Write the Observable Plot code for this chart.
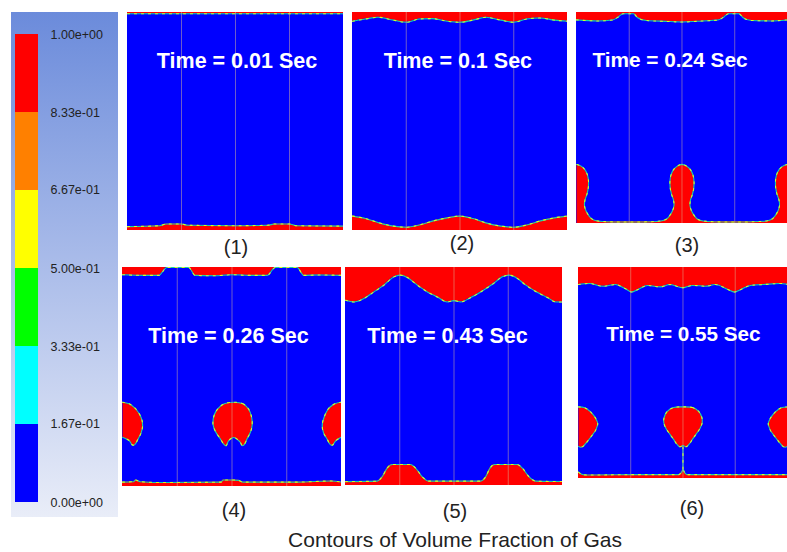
<!DOCTYPE html>
<html><head><meta charset="utf-8">
<script src="https://cdn.jsdelivr.net/npm/d3@7"></script>
<script src="https://cdn.jsdelivr.net/npm/@observablehq/plot@0.6"></script>
<style>
body{margin:0;background:#fff;font-family:"Liberation Sans",Arial,sans-serif;}
#root{position:relative;width:787px;height:552px;overflow:hidden;background:#fff;}
.abs{position:absolute;}
.lbl{position:absolute;font-size:20px;color:#222;transform:translate(-50%,-50%);white-space:nowrap;line-height:1;}
#legend{left:11px;top:12px;width:107px;height:505px;background:linear-gradient(#6b8bdb,#e9edf8);}
#caption{font-size:21px;}
</style></head><body><div id="root"></div>
<script>
// ---------- data ----------
const legendTicks = [0, 0.1667, 0.3333, 0.5, 0.6667, 0.8333, 1];
const legendLabels = ["0.00e+00","1.67e-01","3.33e-01","5.00e-01","6.67e-01","8.33e-01","1.00e+00"];
const legendColors = ["#0000ff","#00ffff","#00ff00","#ffff00","#ff8000","#ff0000"];
const panelTitles = ["Time = 0.01 Sec","Time = 0.1 Sec","Time = 0.24 Sec","Time = 0.26 Sec","Time = 0.43 Sec","Time = 0.55 Sec"];
const panelLabels = ["(1)","(2)","(3)","(4)","(5)","(6)"];
const captionText = "Contours of Volume Fraction of Gas";
const gridX = [0.25, 0.5, 0.75];

// interface profiles: [x, depth from top] for gas at top, [x, height] for gas at bottom
const p1Top = [[0,0.006],[1,0.006]];
const p1Bottom = [[0,0.018],[0.15,0.022],[0.18,0.03],[0.25,0.03],[0.28,0.024],[0.5,0.022],[0.65,0.024],[0.68,0.03],[0.75,0.03],[0.78,0.022],[1,0.02]];
const p2Top = [[0,0.04],[0.06,0.03],[0.12,0.022],[0.19,0.035],[0.25,0.045],[0.31,0.03],[0.37,0.028],[0.44,0.04],[0.5,0.045],[0.56,0.035],[0.62,0.022],[0.69,0.035],[0.75,0.045],[0.81,0.03],[0.87,0.025],[0.94,0.035],[1,0.04]];
const p2Bottom = [[0,0.066],[0.06,0.055],[0.124,0.035],[0.19,0.02],[0.25,0.015],[0.31,0.025],[0.372,0.043],[0.44,0.058],[0.5,0.066],[0.56,0.055],[0.62,0.035],[0.69,0.02],[0.75,0.015],[0.81,0.025],[0.87,0.043],[0.94,0.058],[1,0.066]];
const p3Top = [[0,0.035],[0.1,0.04],[0.17,0.036],[0.2,0.02],[0.22,0.006],[0.27,0.006],[0.29,0.025],[0.33,0.038],[0.42,0.042],[0.5,0.045],[0.6,0.04],[0.67,0.036],[0.7,0.02],[0.72,0.006],[0.77,0.006],[0.79,0.025],[0.83,0.038],[0.92,0.04],[1,0.035]];
const p3Columns = [[1,0.28],[0.978,0.272],[0.96,0.255],[0.948,0.23],[0.943,0.2],[0.944,0.17],[0.95,0.14],[0.96,0.11],[0.962,0.085],[0.955,0.06],[0.94,0.035],[0.925,0.02],[0.9,0.012],[0.6,0.012],[0.575,0.02],[0.56,0.035],[0.545,0.06],[0.538,0.085],[0.54,0.11],[0.55,0.14],[0.556,0.17],[0.557,0.2],[0.552,0.23],[0.54,0.255],[0.522,0.272],[0.5,0.28],[0.478,0.272],[0.46,0.255],[0.448,0.23],[0.443,0.2],[0.444,0.17],[0.45,0.14],[0.46,0.11],[0.462,0.085],[0.455,0.06],[0.44,0.035],[0.425,0.02],[0.4,0.012],[0.1,0.012],[0.075,0.02],[0.06,0.035],[0.045,0.06],[0.038,0.085],[0.04,0.11],[0.05,0.14],[0.056,0.17],[0.057,0.2],[0.052,0.23],[0.04,0.255],[0.022,0.272],[0,0.28]];
const p4Top = [[0,0.033],[0.1,0.036],[0.165,0.036],[0.203,0],[0.302,0],[0.332,0.036],[0.42,0.038],[0.5,0.033],[0.58,0.036],[0.66,0.036],[0.698,0],[0.797,0],[0.828,0.036],[0.9,0.034],[1,0.036]];
const p4Bottom = [[0,0.02],[0.05,0.022],[0.06,0.03],[0.08,0.022],[0.2,0.018],[0.45,0.02],[0.46,0.03],[0.5,0.03],[0.53,0.028],[0.55,0.02],[0.8,0.02],[0.95,0.025],[1,0.02]];
const p4BubbleMid = [[0.508,0.385],[0.55,0.378],[0.575,0.355],[0.59,0.315],[0.592,0.28],[0.585,0.25],[0.57,0.22],[0.555,0.19],[0.548,0.186],[0.535,0.205],[0.508,0.224],[0.485,0.21],[0.473,0.186],[0.465,0.19],[0.445,0.22],[0.425,0.25],[0.413,0.285],[0.42,0.33],[0.44,0.36],[0.465,0.378]];
const p4BubbleLeft = [[0,0.385],[0.03,0.378],[0.06,0.355],[0.085,0.315],[0.092,0.28],[0.085,0.245],[0.07,0.215],[0.055,0.19],[0.045,0.19],[0.03,0.21],[0,0.225]];
const p4BubbleRight = [[1,0.385],[0.97,0.378],[0.94,0.355],[0.92,0.315],[0.912,0.28],[0.918,0.245],[0.935,0.215],[0.95,0.19],[0.96,0.19],[0.975,0.21],[1,0.225]];
const p5Top = [[0,0.15],[0.038,0.158],[0.085,0.142],[0.131,0.112],[0.177,0.081],[0.223,0.043],[0.251,0.035],[0.285,0.046],[0.331,0.081],[0.377,0.112],[0.423,0.135],[0.469,0.158],[0.5,0.152],[0.531,0.158],[0.577,0.138],[0.623,0.112],[0.677,0.077],[0.723,0.043],[0.754,0.035],[0.785,0.046],[0.831,0.081],[0.885,0.115],[0.931,0.138],[0.969,0.158],[1,0.158]];
const p5Bottom = [[0,0.018],[0.146,0.02],[0.169,0.04],[0.192,0.08],[0.215,0.096],[0.3,0.096],[0.323,0.08],[0.354,0.04],[0.385,0.02],[0.623,0.02],[0.646,0.04],[0.666,0.08],[0.688,0.096],[0.792,0.096],[0.815,0.08],[0.846,0.04],[0.877,0.02],[1,0.018]];
const p6Top = [[0,0.081],[0.054,0.076],[0.115,0.089],[0.177,0.081],[0.223,0.1],[0.254,0.116],[0.285,0.104],[0.331,0.085],[0.392,0.092],[0.438,0.081],[0.5,0.096],[0.546,0.085],[0.608,0.089],[0.654,0.081],[0.715,0.104],[0.746,0.116],[0.777,0.104],[0.823,0.085],[0.885,0.081],[0.963,0.076],[1,0.08]];
const p6Bottom = [[0,0.03],[0.015,0.02],[0.04,0.016],[0.3,0.018],[0.48,0.018],[0.49,0.025],[0.5,0.04],[0.51,0.025],[0.52,0.018],[0.8,0.018],[1,0.018]];
const p6BubbleMid = [[0.5,0.339],[0.545,0.336],[0.575,0.318],[0.59,0.29],[0.592,0.265],[0.582,0.238],[0.563,0.21],[0.545,0.185],[0.53,0.163],[0.515,0.15],[0.5,0.156],[0.485,0.15],[0.47,0.163],[0.455,0.185],[0.437,0.21],[0.418,0.238],[0.408,0.265],[0.41,0.29],[0.425,0.318],[0.455,0.336]];
const p6BubbleLeft = [[0,0.339],[0.03,0.335],[0.058,0.315],[0.082,0.285],[0.092,0.26],[0.083,0.23],[0.062,0.2],[0.04,0.172],[0.022,0.152],[0.01,0.148],[0,0.152]];
const p6BubbleRight = [[1,0.339],[0.97,0.335],[0.942,0.315],[0.918,0.285],[0.908,0.26],[0.917,0.23],[0.938,0.2],[0.96,0.172],[0.978,0.152],[0.99,0.148],[1,0.152]];
const p6Stem = [[0.5,0.15],[0.5,0.035]];

// ---------- layout ----------
const layout = [
  {left:127, top:12, w:216, h:218, tx:0.507, ty:0.775, lx:236, ly:247},
  {left:352, top:12, w:215, h:218, tx:0.49,  ty:0.775, lx:462, ly:243},
  {left:576, top:12, w:218, h:218, tx:0.443, ty:0.775, lx:687, ly:245},
  {left:122, top:267, w:219, h:219, tx:0.484, ty:0.685, lx:234, ly:510},
  {left:345, top:267, w:217, h:218, tx:0.47,  ty:0.685, lx:455, ly:511},
  {left:578, top:267, w:217, h:219, tx:0.502, ty:0.685, lx:692, ly:508}
];
const panelData = [
  {top:p1Top, bottom:p1Bottom, closed:[], open:[], polys:[], stems:[]},
  {top:p2Top, bottom:p2Bottom, closed:[], open:[], polys:[], stems:[]},
  {top:p3Top, bottom:null, closed:[], open:[], polys:[p3Columns], stems:[]},
  {top:p4Top, bottom:p4Bottom, closed:[p4BubbleMid], open:[p4BubbleLeft,p4BubbleRight], polys:[], stems:[]},
  {top:p5Top, bottom:p5Bottom, closed:[], open:[], polys:[], stems:[]},
  {top:p6Top, bottom:p6Bottom, closed:[p6BubbleMid], open:[p6BubbleLeft,p6BubbleRight], polys:[], stems:[p6Stem]}
];

const FONT = '"Liberation Sans", Arial, sans-serif';
const RED = "#ff0000", BLUE = "#0000ff";
const root = document.getElementById("root");
const X = d => d[0], Y = d => d[1];

function edge(data, opts) {
  return [
    Plot.line(data, {x:X, y:Y, ...opts, stroke:"#18d0b0", strokeWidth:1.1, clip:true}),
    Plot.line(data, {x:X, y:Y, ...opts, stroke:"#d8ff20", strokeWidth:1.1, strokeDasharray:"2 5", clip:true})
  ];
}

// ---------- legend ----------
const bands = legendColors.map((c, i) => ({lo: legendTicks[i], hi: legendTicks[i + 1], color: c}));
const legendDiv = document.createElement("div");
legendDiv.id = "legend"; legendDiv.className = "abs";
legendDiv.appendChild(Plot.plot({
  width:107, height:505, marginTop:22, marginBottom:15, marginLeft:4, marginRight:80,
  style:{background:"transparent", fontFamily:FONT, fontSize:"12.5px", color:"#222"},
  y:{domain:[0,1], label:null},
  marks:[
    Plot.barY(bands, {y1:"lo", y2:"hi", fill:"color"}),
    Plot.axisY({anchor:"right", ticks:legendTicks, tickFormat:d => legendLabels[legendTicks.indexOf(d)], tickSize:0, tickPadding:12, fontSize:12.5, fill:"#222", label:null})
  ]
}));
root.appendChild(legendDiv);

// ---------- panels ----------
layout.forEach((L, i) => {
  const P = panelData[i];
  const marks = [Plot.frame({fill:BLUE, stroke:BLUE})];
  const topY = d => 1 - d[1];
  marks.push(Plot.areaY(P.top, {x:X, y1:topY, y2:() => 1, fill:RED, curve:"monotone-x", clip:true}));
  if (P.bottom) marks.push(Plot.areaY(P.bottom, {x:X, y1:() => 0, y2:Y, fill:RED, curve:"monotone-x", clip:true}));
  P.polys.forEach(poly => {
    const shape = [[0,0],[1,0], ...poly];
    marks.push(Plot.line(shape, {x:X, y:Y, fill:RED, stroke:"none", curve:"linear", clip:true}));
  });
  P.closed.forEach(b => marks.push(Plot.line(b, {x:X, y:Y, fill:RED, stroke:"none", curve:"catmull-rom-closed", clip:true})));
  P.open.forEach(b => marks.push(Plot.line(b, {x:X, y:Y, fill:RED, stroke:"none", curve:"catmull-rom", clip:true})));
  // interfaces
  marks.push(...edge(P.top, {y:topY, curve:"monotone-x"}));
  if (P.bottom) marks.push(...edge(P.bottom, {curve:"monotone-x"}));
  P.polys.forEach(poly => marks.push(...edge(poly, {curve:"catmull-rom"})));
  P.closed.forEach(b => marks.push(...edge(b, {curve:"catmull-rom-closed"})));
  P.open.forEach(b => marks.push(...edge(b, {curve:"catmull-rom"})));
  P.stems.forEach(s => marks.push(...edge(s, {curve:"linear"})));
  // grid lines
  marks.push(Plot.ruleX(gridX, {stroke:"#d8b898", strokeOpacity:0.5, strokeWidth:1}));
  // title
  marks.push(Plot.text([panelTitles[i]], {x:() => L.tx, y:() => L.ty, text:d => d, fill:"white", fontWeight:"bold", fontSize:21.5, fontFamily:FONT}));

  const div = document.createElement("div");
  div.className = "abs";
  div.style.left = L.left + "px"; div.style.top = L.top + "px";
  div.appendChild(Plot.plot({
    width:L.w, height:L.h, margin:0,
    style:{background:"transparent", fontFamily:FONT, overflow:"hidden"},
    x:{domain:[0,1], axis:null}, y:{domain:[0,1], axis:null},
    marks
  }));
  root.appendChild(div);

  const lab = document.createElement("div");
  lab.className = "lbl";
  lab.style.left = L.lx + "px"; lab.style.top = L.ly + "px";
  lab.textContent = panelLabels[i];
  root.appendChild(lab);
});

// ---------- caption ----------
const cap = document.createElement("div");
cap.className = "lbl"; cap.id = "caption";
cap.style.left = "455px"; cap.style.top = "539px";
cap.textContent = captionText;
root.appendChild(cap);
</script>
</body></html>
